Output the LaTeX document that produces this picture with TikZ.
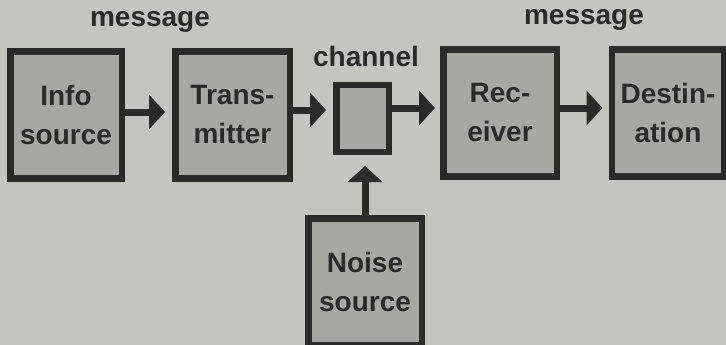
\documentclass[tikz,border=0pt]{standalone}
\usepackage{fontspec}
\setmainfont{Liberation Sans}
\usetikzlibrary{arrows.meta}
\definecolor{paper}{HTML}{C2C6BE}
\definecolor{boxgray}{HTML}{A6A8A2}
\definecolor{ink}{HTML}{2A2A28}
\tikzset{
    block/.style={draw=ink, fill=boxgray, line width=6.5pt, align=center,
        inner sep=0pt, font=\fontsize{28}{39}\selectfont\bfseries, text=ink},
    flow/.style={draw=ink, line width=7pt,
        -{Triangle[length=16pt,width=34pt]}},
    tag/.style={font=\fontsize{28}{34}\selectfont\bfseries, text=ink}
}

\begin{document}
\begin{tikzpicture}[x=1pt, y=-1pt]
        % paper
        \fill[paper] (0,0) rectangle (726,345);
        \useasboundingbox (0,0) rectangle (726,345);
        \begin{scope}
        \clip (0,0) rectangle (726,345);
        % boxes
        \node[block, minimum width=111.5pt, minimum height=127pt] (info) at (66,115) {Info\\source};
        \node[block, minimum width=114.5pt, minimum height=127pt] (trans) at (232.5,115) {Trans-\\mitter};
        \node[block, minimum width=52.5pt, minimum height=66.5pt] (chan) at (362.5,118.5) {};
        \node[block, minimum width=113.5pt, minimum height=127pt] (recv) at (500,113) {Rec-\\eiver};
        \node[block, minimum width=112.5pt, minimum height=127pt] (dest) at (668,113) {Destin-\\ation};
        \node[block, minimum width=113.5pt, minimum height=127pt] (noise) at (365,282) {Noise\\source};

        % labels
        \node[tag, anchor = center] (msgin) at (150,22) {message};
        \node[tag, anchor = center] (chanlbl) at (366,56) {channel};
        \node[tag, anchor = center] (msgout) at (584,20) {message};

        % arrows
        \draw[flow, shorten >=7pt] ([yshift=3pt]info.east) -- ([yshift=3pt]info.east -| trans.west);
        \draw[flow, shorten >=7pt] ([yshift=5pt]trans.east) -- ([yshift=5pt]trans.east -| chan.west);
        \draw[flow, shorten >=5pt] ([yshift=5pt]chan.east |- recv.east) -- ([yshift=5pt]recv.west);
        \draw[flow, shorten >=6pt] ([yshift=5pt]recv.east) -- ([yshift=5pt]dest.west);
        \draw[flow, shorten >=11pt] (noise.north) -- (noise.north |- chan.south);
        \end{scope}
\end{tikzpicture}
\end{document}
